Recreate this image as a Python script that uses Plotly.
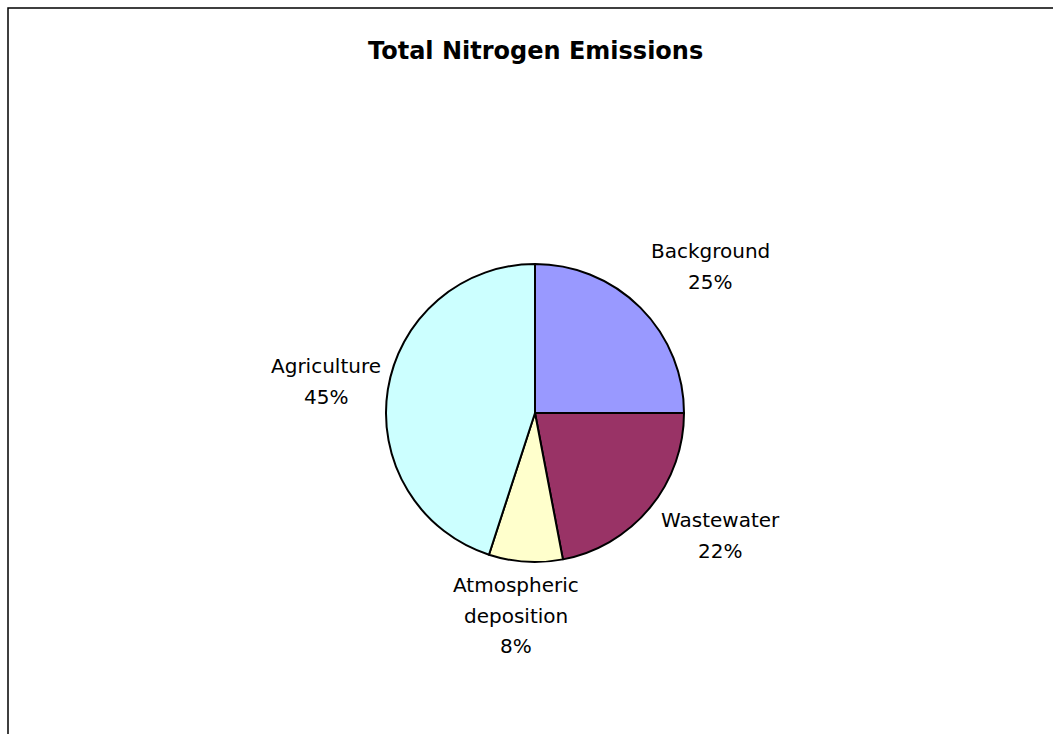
import plotly.graph_objects as go

# Share of total nitrogen emissions by source
sources = ["Background", "Wastewater", "Atmospheric deposition", "Agriculture"]
shares = [25, 22, 8, 45]
colors = ["#9999FF", "#993366", "#FFFFCC", "#CCFFFF"]

# Label lines per source, and where each label block sits (pixel centre of first line)
label_lines = {
    "Background": ["Background"],
    "Wastewater": ["Wastewater"],
    "Atmospheric deposition": ["Atmospheric", "deposition"],
    "Agriculture": ["Agriculture"],
}
label_pos = {
    "Background": (710, 251),
    "Wastewater": (720, 520),
    "Atmospheric deposition": (516, 585),
    "Agriculture": (326, 366),
}

W, H = 1053, 734
cx, cy, r = 535, 413, 149
line_gap = 30.5

fig = go.Figure(
    go.Pie(
        labels=sources,
        values=shares,
        sort=False,
        direction="clockwise",
        rotation=0,
        marker=dict(colors=colors, line=dict(color="black", width=2)),
        textinfo="none",
        hoverinfo="label+percent",
        showlegend=False,
        domain=dict(x=[(cx - r) / W, (cx + r) / W], y=[(H - cy - r) / H, (H - cy + r) / H]),
    )
)

total = sum(shares)
annotations = []
for name, val in zip(sources, shares):
    lines = label_lines[name] + [f"{round(100 * val / total)}%"]
    x0, y0 = label_pos[name]
    for i, line in enumerate(lines):
        annotations.append(
            dict(
                text=line,
                x=x0 / W,
                y=1 - (y0 + i * line_gap) / H,
                xref="paper",
                yref="paper",
                xanchor="center",
                yanchor="middle",
                showarrow=False,
                font=dict(family="DejaVu Sans", size=20, color="black"),
            )
        )

annotations.append(
    dict(
        text="<b>Total Nitrogen Emissions</b>",
        x=535.5 / W,
        y=1 - 50.5 / H,
        xref="paper",
        yref="paper",
        xanchor="center",
        yanchor="middle",
        showarrow=False,
        font=dict(family="DejaVu Sans", size=24, color="black"),
    )
)

fig.update_layout(
    width=W,
    height=H,
    margin=dict(l=0, r=0, t=0, b=0),
    paper_bgcolor="white",
    plot_bgcolor="white",
    annotations=annotations,
    shapes=[
        dict(
            type="rect",
            xref="paper",
            yref="paper",
            x0=8 / W,
            x1=1.02,
            y0=-0.02,
            y1=1 - 8 / H,
            line=dict(color="black", width=1.5),
            fillcolor="rgba(0,0,0,0)",
            layer="above",
        )
    ],
)

fig.write_html("out.html")
